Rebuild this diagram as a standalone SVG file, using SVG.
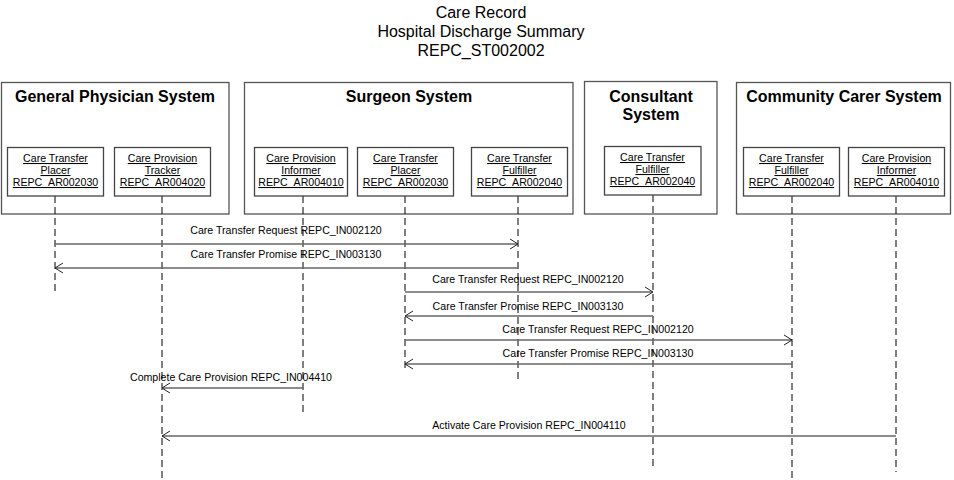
<svg xmlns="http://www.w3.org/2000/svg" width="954" height="480" viewBox="0 0 954 480">
<defs>
<style>
text{font-family:"Liberation Sans",Arial,sans-serif;fill:#000}
.title{font-size:16px;text-anchor:middle}
.sys{fill:#fff;stroke:#555;stroke-width:1.3}
.sysname{font-size:16px;font-weight:bold;text-anchor:middle}
.role{fill:#fff;stroke:#444;stroke-width:1.3}
.rolet{font-size:10.6px;text-anchor:middle;text-decoration:underline}
.life{stroke:#000;stroke-width:1;stroke-dasharray:7,4;fill:none}
.msg{stroke:#666;stroke-width:1.5;fill:none;marker-end:url(#arr)}
.mt{font-size:10.6px;text-anchor:middle}
</style>
<marker id="arr" markerUnits="userSpaceOnUse" markerWidth="12" markerHeight="12" refX="9" refY="5" orient="auto" overflow="visible">
<path d="M1,0 L9,5 L1,10" fill="none" stroke="#222" stroke-width="1"/>
</marker>
</defs>
<rect width="954" height="480" fill="#fff"/>
<g id="title">
<text class="title" x="481" y="18">Care Record</text>
<text class="title" x="481" y="37">Hospital Discharge Summary</text>
<text class="title" x="481" y="56">REPC_ST002002</text>
</g>
<g id="gp-system">
<rect class="sys" x="1.5" y="82.5" width="227.5" height="131.5"/>
<text class="sysname" x="115" y="102">General Physician System</text>
</g>
<g id="surgeon-system">
<rect class="sys" x="244.5" y="82.5" width="328.5" height="131.5"/>
<text class="sysname" x="409" y="102">Surgeon System</text>
</g>
<g id="consultant-system">
<rect class="sys" x="584.5" y="81.5" width="132.5" height="132.5"/>
<text class="sysname" x="651" y="102">Consultant</text>
<text class="sysname" x="651" y="120">System</text>
</g>
<g id="community-system">
<rect class="sys" x="736.5" y="82.5" width="214" height="131.5"/>
<text class="sysname" x="844" y="102">Community Carer System</text>
</g>
<g id="connectors">
<line class="life" x1="55" y1="196" x2="55" y2="291"/>
<line class="life" x1="162" y1="196" x2="162" y2="480"/>
<line class="life" x1="303" y1="196" x2="303" y2="416"/>
<line class="life" x1="405" y1="196" x2="405" y2="368"/>
<line class="life" x1="518" y1="196" x2="518" y2="383"/>
<line class="life" x1="653" y1="195" x2="653" y2="470"/>
<line class="life" x1="792" y1="196" x2="792" y2="480"/>
<line class="life" x1="896" y1="196" x2="896" y2="472"/>
<line class="msg" x1="55" y1="244" x2="518" y2="244"/>
<line class="msg" x1="518" y1="268" x2="55" y2="268"/>
<line class="msg" x1="405" y1="292" x2="653" y2="292"/>
<line class="msg" x1="653" y1="316" x2="405" y2="316"/>
<line class="msg" x1="405" y1="340" x2="792" y2="340"/>
<line class="msg" x1="792" y1="364" x2="405" y2="364"/>
<line class="msg" x1="303" y1="388" x2="162" y2="388"/>
<line class="msg" x1="896" y1="436" x2="162" y2="436"/>
<text class="mt" x="286" y="234">Care Transfer Request REPC_IN002120</text>
<text class="mt" x="286" y="258">Care Transfer Promise REPC_IN003130</text>
<text class="mt" x="528" y="283">Care Transfer Request REPC_IN002120</text>
<text class="mt" x="528" y="310">Care Transfer Promise REPC_IN003130</text>
<text class="mt" x="598" y="333">Care Transfer Request REPC_IN002120</text>
<text class="mt" x="598" y="357">Care Transfer Promise REPC_IN003130</text>
<text class="mt" x="231" y="381">Complete Care Provision REPC_IN004410</text>
<text class="mt" x="529" y="429">Activate Care Provision REPC_IN004110</text>
</g>
<g id="gp-ct-placer">
<rect class="role" x="7.5" y="147.5" width="96" height="48.5"/>
<text class="rolet" x="55.5" y="162">Care Transfer</text>
<text class="rolet" x="55.5" y="174">Placer</text>
<text class="rolet" x="55.5" y="186">REPC_AR002030</text>
</g>
<g id="gp-cp-tracker">
<rect class="role" x="114.5" y="147.5" width="96" height="48.5"/>
<text class="rolet" x="162.5" y="162">Care Provision</text>
<text class="rolet" x="162.5" y="174">Tracker</text>
<text class="rolet" x="162.5" y="186">REPC_AR004020</text>
</g>
<g id="surgeon-cp-informer">
<rect class="role" x="254.5" y="147.5" width="93" height="48.5"/>
<text class="rolet" x="301" y="162">Care Provision</text>
<text class="rolet" x="301" y="174">Informer</text>
<text class="rolet" x="301" y="186">REPC_AR004010</text>
</g>
<g id="surgeon-ct-placer">
<rect class="role" x="357.5" y="147.5" width="96" height="48.5"/>
<text class="rolet" x="405.5" y="162">Care Transfer</text>
<text class="rolet" x="405.5" y="174">Placer</text>
<text class="rolet" x="405.5" y="186">REPC_AR002030</text>
</g>
<g id="surgeon-ct-fulfiller">
<rect class="role" x="471.5" y="147.5" width="96" height="48.5"/>
<text class="rolet" x="519.5" y="162">Care Transfer</text>
<text class="rolet" x="519.5" y="174">Fulfiller</text>
<text class="rolet" x="519.5" y="186">REPC_AR002040</text>
</g>
<g id="consultant-ct-fulfiller">
<rect class="role" x="604.5" y="146.5" width="96.5" height="48.5"/>
<text class="rolet" x="652.5" y="161">Care Transfer</text>
<text class="rolet" x="652.5" y="173">Fulfiller</text>
<text class="rolet" x="652.5" y="185">REPC_AR002040</text>
</g>
<g id="community-ct-fulfiller">
<rect class="role" x="743.5" y="147.5" width="96" height="48.5"/>
<text class="rolet" x="791.5" y="162">Care Transfer</text>
<text class="rolet" x="791.5" y="174">Fulfiller</text>
<text class="rolet" x="791.5" y="186">REPC_AR002040</text>
</g>
<g id="community-cp-informer">
<rect class="role" x="848.5" y="147.5" width="96" height="48.5"/>
<text class="rolet" x="896.5" y="162">Care Provision</text>
<text class="rolet" x="896.5" y="174">Informer</text>
<text class="rolet" x="896.5" y="186">REPC_AR004010</text>
</g>
</svg>
